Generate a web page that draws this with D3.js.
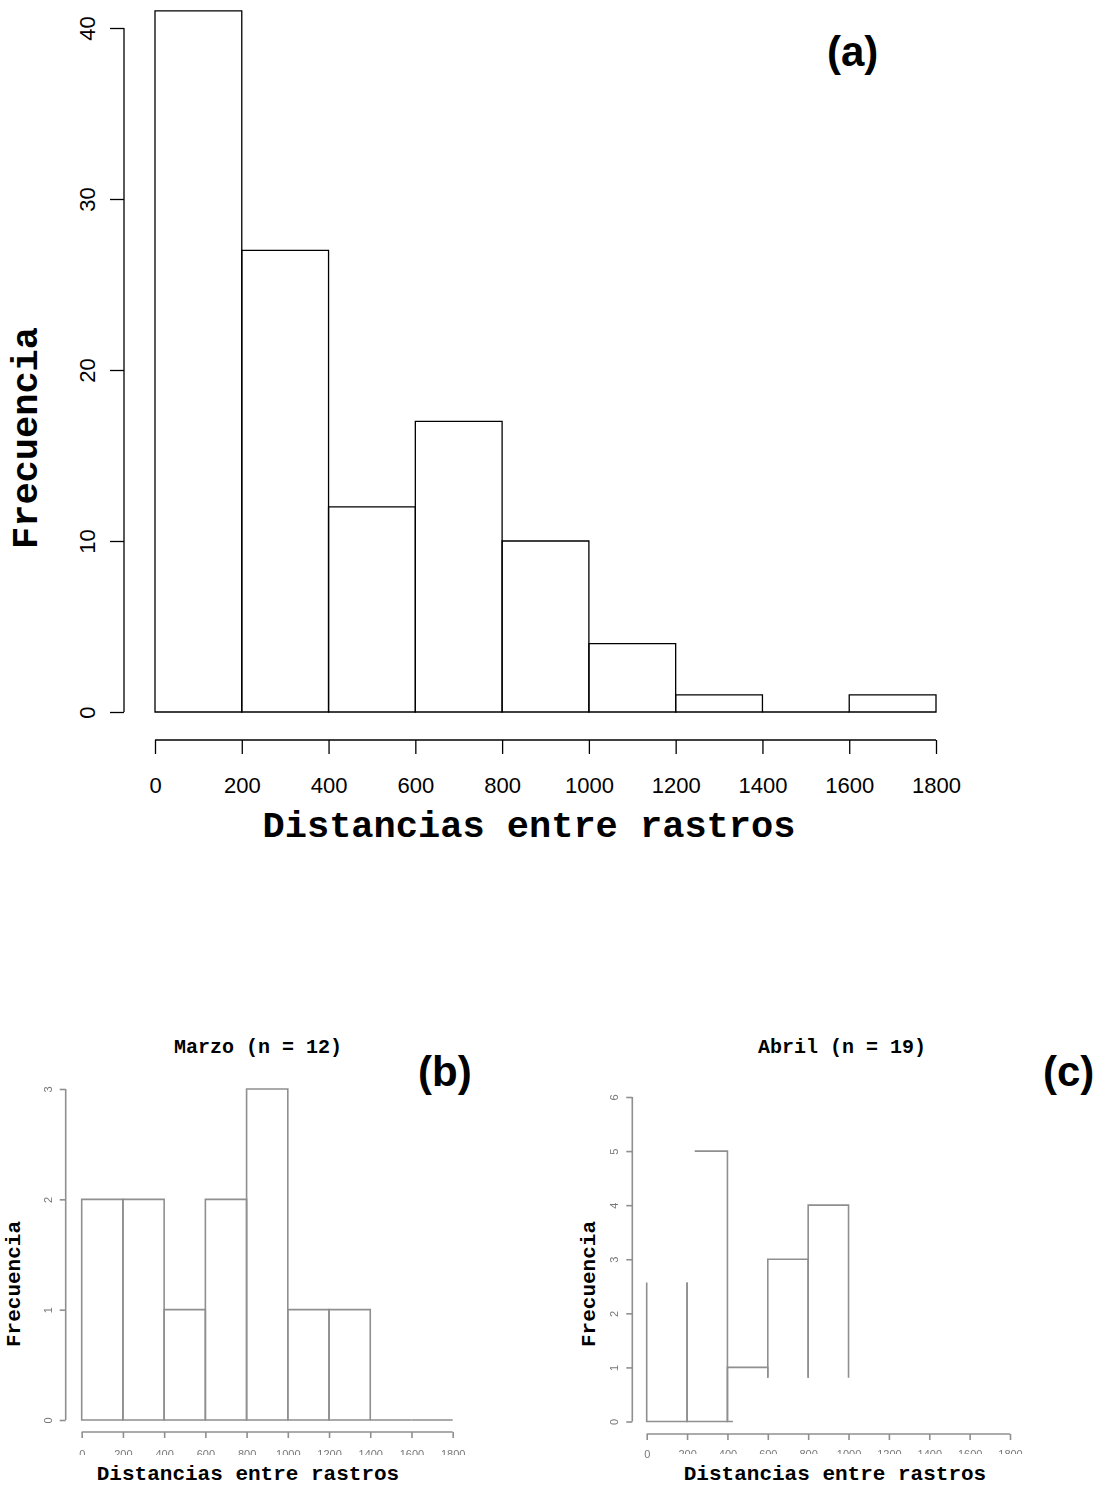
<!DOCTYPE html>
<html>
<head>
<meta charset="utf-8">
<script src="https://cdn.jsdelivr.net/npm/d3@7"></script>
<style>
  body { margin: 0; background: #fff; }
  svg { display: block; }
</style>
</head>
<body>
<script>
// Histogram bin edges (metres) shared by all three panels
const breaks = [0, 200, 400, 600, 800, 1000, 1200, 1400, 1600, 1800];
const xTicks = [0, 200, 400, 600, 800, 1000, 1200, 1400, 1600, 1800];

// Counts per bin
const countsAll   = [41, 27, 12, 17, 10, 4, 1, 0, 1];
const countsMarzo = [2, 2, 1, 2, 3, 1, 1, 0, 0];
const countsAbril = [6, 5, 1, 3, 4, 0, 0, 0, 0];

// Y-axis tick values
const yTicksAll   = [0, 10, 20, 30, 40];
const yTicksMarzo = [0, 1, 2, 3];
const yTicksAbril = [0, 1, 2, 3, 4, 5, 6];

// Texts
const xTitle = "Distancias entre rastros";
const yTitle = "Frecuencia";
const titleMarzo = "Marzo (n = 12)";
const titleAbril = "Abril (n = 19)";
const panelTags = ["(a)", "(b)", "(c)"];

// Faded areas of the April panel (data units), where the outlines did not print
const abrilFaded = [
  { x0: -40, x1: 238, y0: 2.57, y1: 7 },
  { x0: 427, x1: 1900, y0: -0.6, y1: 0.81 }
];

const W = 1099, H = 1486;
const svg = d3.select("body").append("svg").attr("width", W).attr("height", H);
const defs = svg.append("defs");
defs.append("filter").attr("id", "soft")
  .append("feGaussianBlur").attr("stdDeviation", 0.45);

const mono = "'Liberation Mono', 'DejaVu Sans Mono', monospace";
const sans = "'Liberation Sans', Arial, Helvetica, sans-serif";

function bins(counts) {
  return counts.map((c, i) => ({ x0: breaks[i], x1: breaks[i + 1], n: c }));
}

// Draws one histogram panel
function panel(cfg) {
  const g = svg.append("g");
  const x = d3.scaleLinear().domain([0, 1800]).range(cfg.xRange);
  const y = d3.scaleLinear().domain([0, d3.max(cfg.yTicks)]).range(cfg.yRange);

  // each bin outlined as a closed path, so empty bins still leave a baseline
  const barsG = g.append("g");
  if (cfg.clipId) barsG.attr("clip-path", `url(#${cfg.clipId})`);
  barsG.selectAll("path").data(bins(cfg.counts)).join("path")
    .attr("d", d => `M${x(d.x0)},${y(0)}V${y(d.n)}H${x(d.x1)}V${y(0)}Z`)
    .attr("fill", "none")
    .attr("stroke", cfg.color)
    .attr("stroke-width", cfg.sw);

  // y axis
  const ya = g.append("g").attr("transform", `translate(${cfg.yAxisX},0)`)
    .call(d3.axisLeft(y).tickValues(cfg.yTicks).tickSize(cfg.tick).tickSizeOuter(0).tickFormat(d3.format("d")));
  ya.select(".domain").attr("d", `M0,${y(d3.max(cfg.yTicks))}V${y(0)}`)
    .attr("stroke", cfg.color).attr("stroke-width", cfg.sw);
  ya.selectAll(".tick line").attr("stroke", cfg.color).attr("stroke-width", cfg.sw);
  ya.selectAll(".tick text")
    .attr("transform", "rotate(-90)")
    .attr("x", 0).attr("y", cfg.yLabelOff).attr("dy", 0)
    .attr("text-anchor", "middle")
    .attr("font-family", sans).attr("font-size", cfg.tickFont)
    .attr("fill", cfg.tickColor);

  // x axis
  const xa = g.append("g").attr("transform", `translate(0,${cfg.xAxisY})`)
    .call(d3.axisBottom(x).tickValues(xTicks).tickSize(cfg.tick).tickSizeOuter(0).tickFormat(d3.format("d")));
  xa.select(".domain").attr("d", `M${x(0)},0H${x(1800)}`)
    .attr("stroke", cfg.color).attr("stroke-width", cfg.sw);
  xa.selectAll(".tick line").attr("stroke", cfg.color).attr("stroke-width", cfg.sw);
  xa.selectAll(".tick text")
    .attr("y", cfg.xLabelOff).attr("dy", 0)
    .attr("font-family", sans).attr("font-size", cfg.tickFont)
    .attr("fill", cfg.tickColor);
  if (cfg.labelClip) xa.attr("clip-path", `url(#${cfg.labelClip})`);

  if (cfg.soft) g.attr("filter", "url(#soft)");
  return { g, x, y };
}

// ---------- (a) all records ----------
panel({
  counts: countsAll, yTicks: yTicksAll,
  xRange: [155, 936], yRange: [712, 28],
  yAxisX: 124, xAxisY: 740, tick: 14,
  yLabelOff: -29, xLabelOff: 53,
  tickFont: 22, tickColor: "#000", color: "#000", sw: 1.3
});

svg.append("text").attr("x", 529).attr("y", 837)
  .attr("text-anchor", "middle").attr("font-family", mono).attr("font-weight", "bold")
  .attr("font-size", 37).text(xTitle);
svg.append("text").attr("transform", "translate(37,438) rotate(-90)")
  .attr("text-anchor", "middle").attr("font-family", mono).attr("font-weight", "bold")
  .attr("font-size", 37).text(yTitle);
svg.append("text").attr("x", 827).attr("y", 66)
  .attr("font-family", sans).attr("font-weight", "bold").attr("font-size", 42).text(panelTags[0]);

// ---------- (b) March ----------
defs.append("clipPath").attr("id", "clipLabB")
  .append("rect").attr("x", -10).attr("y", -40).attr("width", 600).attr("height", 63);
panel({
  counts: countsMarzo, yTicks: yTicksMarzo,
  xRange: [81.7, 452.7], yRange: [1420, 1089],
  yAxisX: 65.7, xAxisY: 1432, tick: 6,
  yLabelOff: -14, xLabelOff: 26,
  tickFont: 11, tickColor: "#777", color: "#8f8f8f", sw: 1.6,
  labelClip: "clipLabB", soft: true
});

// ---------- (c) April ----------
// visible region for the April bars: whole panel minus the faded patches
const xc = d3.scaleLinear().domain([0, 1800]).range([646.7, 1010]);
const yc = d3.scaleLinear().domain([0, 6]).range([1421.5, 1097]);
let clipD = `M560,1000H1099V1486H560Z`;
abrilFaded.forEach(f => {
  clipD += `M${xc(f.x0)},${yc(f.y1)}V${yc(f.y0)}H${xc(f.x1)}V${yc(f.y1)}Z`;
});
defs.append("clipPath").attr("id", "clipBarsC")
  .append("path").attr("d", clipD).attr("clip-rule", "evenodd");
defs.append("clipPath").attr("id", "clipLabC")
  .append("path").attr("d", `M550,-40H1099V20H${xc(0) + 9}V40H550Z`);

panel({
  counts: countsAbril, yTicks: yTicksAbril,
  xRange: [646.7, 1010], yRange: [1421.5, 1097],
  yAxisX: 632.3, xAxisY: 1434, tick: 6,
  yLabelOff: -14, xLabelOff: 24,
  tickFont: 11, tickColor: "#777", color: "#8f8f8f", sw: 1.6,
  clipId: "clipBarsC", labelClip: "clipLabC", soft: true
});

// titles and axis labels of the monthly panels
[
  { title: titleMarzo, tx: 258, xt: 248, yl: 20, tag: 418 },
  { title: titleAbril, tx: 842, xt: 835, yl: 595, tag: 1043 }
].forEach((p, i) => {
  svg.append("text").attr("x", p.tx).attr("y", 1053)
    .attr("text-anchor", "middle").attr("font-family", mono).attr("font-weight", "bold")
    .attr("font-size", 20).text(p.title);
  svg.append("text").attr("x", p.xt).attr("y", 1480)
    .attr("text-anchor", "middle").attr("font-family", mono).attr("font-weight", "bold")
    .attr("font-size", 21).text(xTitle);
  svg.append("text").attr("transform", `translate(${p.yl},1284) rotate(-90)`)
    .attr("text-anchor", "middle").attr("font-family", mono).attr("font-weight", "bold")
    .attr("font-size", 21).text(yTitle);
  svg.append("text").attr("x", p.tag).attr("y", 1086)
    .attr("font-family", sans).attr("font-weight", "bold").attr("font-size", 42)
    .text(panelTags[i + 1]);
});
</script>
</body>
</html>
